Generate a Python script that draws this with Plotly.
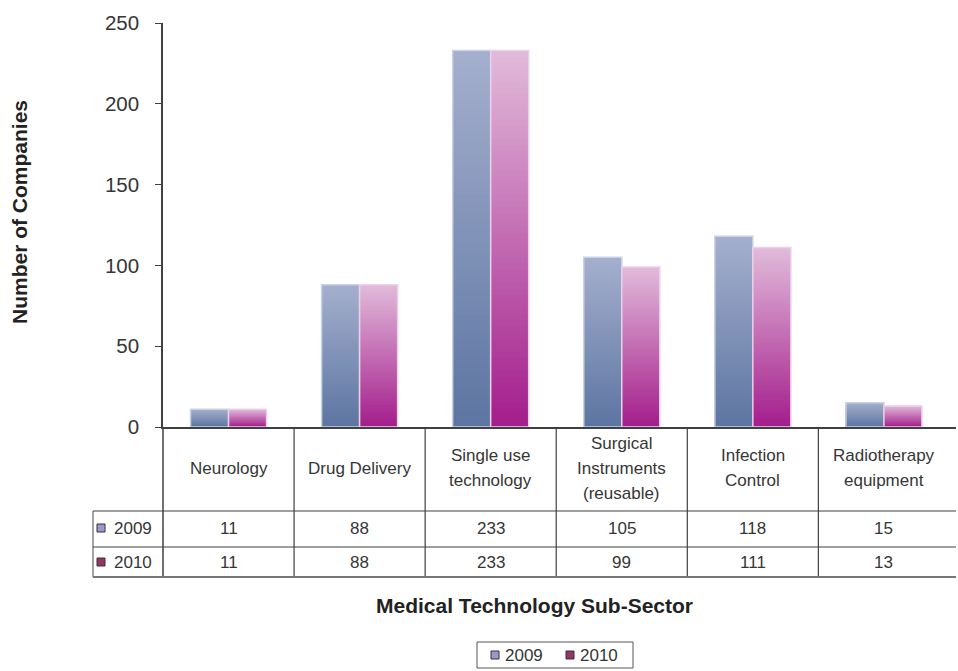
import plotly.graph_objects as go

# data
categories = ["Neurology", "Drug Delivery", "Single use technology",
              "Surgical Instruments (reusable)", "Infection Control",
              "Radiotherapy equipment"]
header_labels = ["Neurology", "Drug Delivery", "Single use<br>technology",
                 "Surgical<br>Instruments<br>(reusable)", "Infection<br>Control",
                 "Radiotherapy<br>equipment"]
years = ["2009", "2010"]
values_2009 = [11, 88, 233, 105, 118, 15]
values_2010 = [11, 88, 233, 99, 111, 13]

# styling
W, H = 958, 671
ML, MR, MT, MB = 163, 2, 23, 244
PW, PH = W - ML - MR, H - MT - MB
TXT = "#363636"
LINE = "#404040"
FONT = "Liberation Sans, Arial, sans-serif"
CELL_SIZE = 17
TITLE_SIZE = 21

series = [
    dict(name="2009", vals=values_2009, offset=-0.29,
         top=(164, 175, 205), bottom=(93, 117, 162), border="#c9d1e5", key="#9999cc"),
    dict(name="2010", vals=values_2010, offset=0.0,
         top=(225, 186, 218), bottom=(164, 30, 140), border="#ecd0e8", key="#993366"),
]
BAR_W = 0.29
N_STEPS = 60


def px_x(X):
    return (X - ML) / PW


def px_y(Y):
    return (H - MB - Y) / PH


def mix(c0, c1, t):
    return "rgb(%d,%d,%d)" % tuple(round(a + (b - a) * t) for a, b in zip(c0, c1))


def label(x, y, text, xref="paper", size=CELL_SIZE, xanchor="center", **kw):
    d = dict(x=x, y=y, xref=xref, yref="paper", text=text, showarrow=False,
             xanchor=xanchor, yanchor="middle",
             font=dict(size=size, color=kw.pop("color", TXT), family=FONT))
    d.update(kw)
    return d


fig = go.Figure()

# gradient bars: stacked overlays from light (full height) to dark (bottom)
for s in series:
    for k in range(N_STEPS):
        frac = 1 - k / N_STEPS
        fig.add_trace(go.Bar(
            x=categories, y=[v * frac for v in s["vals"]],
            offset=s["offset"], width=BAR_W,
            marker=dict(color=mix(s["top"], s["bottom"], k / (N_STEPS - 1)), line=dict(width=0)),
            hoverinfo="skip", showlegend=False,
        ))
    fig.add_trace(go.Bar(
        x=categories, y=s["vals"], name=s["name"],
        offset=s["offset"], width=BAR_W,
        marker=dict(color="rgba(0,0,0,0)", line=dict(color=s["border"], width=1.5)),
        hovertemplate="%{x}<br>" + s["name"] + ": %{y}<extra></extra>",
        showlegend=False,
    ))

shapes = []
annotations = []

# data table below the axis
y_row1 = px_y(511)
y_row2 = px_y(547)
y_bot = px_y(577)
x_left = px_x(93)

for i in range(1, len(categories)):
    shapes.append(dict(type="line", xref="x", yref="paper", x0=i - 0.5, x1=i - 0.5,
                       y0=0, y1=y_bot, line=dict(color=LINE, width=1.2)))
shapes.append(dict(type="line", xref="paper", yref="paper", x0=0, x1=0,
                   y0=0, y1=y_bot, line=dict(color=LINE, width=1.5)))
shapes.append(dict(type="line", xref="paper", yref="paper", x0=x_left, x1=x_left,
                   y0=y_row1, y1=y_bot, line=dict(color="#666", width=1.2)))
for yy in (y_row1, y_row2):
    shapes.append(dict(type="line", xref="paper", yref="paper", x0=x_left, x1=1,
                       y0=yy, y1=yy, line=dict(color=LINE, width=1.2)))
shapes.append(dict(type="line", xref="paper", yref="paper", x0=x_left, x1=1,
                   y0=y_bot, y1=y_bot, line=dict(color="#777", width=2)))

# header cells: one annotation per text line for wider line spacing
LINE_GAP = 25
for i, lab in enumerate(header_labels):
    parts = lab.split("<br>")
    n = len(parts)
    for j, p in enumerate(parts):
        annotations.append(label(i, px_y(468), p, xref="x",
                                 yshift=((n - 1) / 2 - j) * LINE_GAP))

row_centers = [px_y(528), px_y(562)]
for s, yc in zip(series, row_centers):
    for i, v in enumerate(s["vals"]):
        annotations.append(label(i, yc, str(v), xref="x"))
    # legend key inside table
    Yc = H - MB - yc * PH
    shapes.append(dict(type="rect", xref="paper", yref="paper",
                       x0=px_x(97), x1=px_x(105), y0=px_y(Yc - 4), y1=px_y(Yc + 4),
                       fillcolor=s["key"], line=dict(color="#333", width=1)))
    annotations.append(label(px_x(112), yc, s["name"], xanchor="left"))

# axis titles
annotations.append(label(px_x(19), px_y(212), "<b>Number of Companies</b>",
                         size=TITLE_SIZE, color="#222", textangle=-90))
annotations.append(label(px_x(534), px_y(605), "<b>Medical Technology Sub-Sector</b>",
                         size=TITLE_SIZE, color="#222"))

# legend box at bottom
shapes.append(dict(type="rect", xref="paper", yref="paper",
                   x0=px_x(477), x1=px_x(633), y0=px_y(642), y1=px_y(668),
                   line=dict(color="#555", width=1), fillcolor="white"))
for s, kx in zip(series, (491, 566)):
    shapes.append(dict(type="rect", xref="paper", yref="paper",
                       x0=px_x(kx), x1=px_x(kx + 8), y0=px_y(651), y1=px_y(659),
                       fillcolor=s["key"], line=dict(color="#333", width=1)))
    annotations.append(label(px_x(kx + 12), px_y(655), s["name"], xanchor="left"))

fig.update_layout(
    width=W, height=H,
    margin=dict(l=ML, r=MR, t=MT, b=MB),
    barmode="overlay",
    plot_bgcolor="white", paper_bgcolor="white",
    showlegend=False,
    shapes=shapes, annotations=annotations,
    font=dict(family=FONT, color=TXT),
)
fig.update_xaxes(range=[-0.5, 5.55], showticklabels=False, showgrid=False, zeroline=False,
                 showline=True, linecolor=LINE, linewidth=2, ticks="")
fig.update_yaxes(range=[0, 250], dtick=50, showgrid=False, zeroline=False,
                 showline=True, linecolor=LINE, linewidth=1.5,
                 ticks="outside", ticklen=6, tickcolor=LINE, tickwidth=1.2,
                 ticklabelstandoff=12, tickfont=dict(size=20.5, color=TXT, family=FONT))

fig.write_html("out.html", config={"displayModeBar": False},
               post_script="document.body.style.margin='0';")
